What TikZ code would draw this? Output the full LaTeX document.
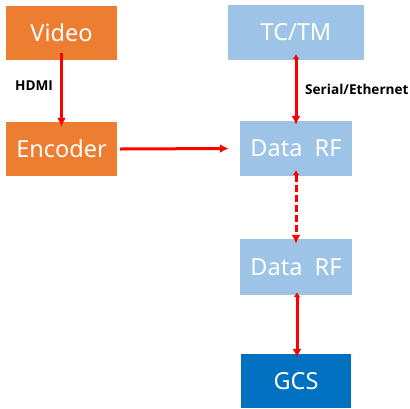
\documentclass[tikz,border=0pt]{standalone}
\usepackage{fontspec}
\setmainfont{Noto Sans}
\newfontfamily\lblfont{Open Sans}
\usetikzlibrary{arrows.meta}
\definecolor{orangeb}{HTML}{ED7D31}
\definecolor{lightb}{HTML}{9DC3E6}
\definecolor{darkb}{HTML}{0070C0}
\definecolor{redl}{HTML}{FF0000}
\begin{document}
\begin{tikzpicture}[x=1pt,y=-1pt,
  box/.style={draw=none,minimum height=54pt,inner sep=0pt,text=white,font=\fontsize{23.5}{26}\selectfont},
  orbox/.style={box,fill=orangeb,minimum width=111pt},
  ltbox/.style={box,fill=lightb,minimum width=112pt},
  conn/.style={draw=redl,line width=3pt},
  tipend/.style={-{Latex[length=9pt,width=9pt]}},
  bothend/.style={{Latex[length=5pt,width=7pt]}-{Latex[length=9pt,width=9pt]}},
  lbl/.style={font=\lblfont\bfseries\fontsize{13.6}{16}\selectfont,text=black,inner sep=0pt}]
\useasboundingbox (0,0) rectangle (410,408);
\node[orbox] (video) at (61.5,32.5) {Video};
\node[orbox] (enc) at (61.5,149) {Encoder};
\node[ltbox,minimum width=136pt,minimum height=55pt] (tctm) at (296,32.5) {TC/TM};
\node[ltbox,minimum height=55pt] (rf1) at (296,148.5) {Data\ \ RF};
\node[ltbox,minimum height=56pt] (rf2) at (296,267) {Data\ \ RF};
\node[box,fill=darkb,minimum width=110pt] (gcs) at (296,381) {GCS};
\draw[conn,tipend] ([yshift=7pt]video.south) -- ([yshift=-5pt]enc.north);
\node[lbl,anchor=west] (hdmi) at (15,86) {HDMI};
\draw[conn,tipend] ([xshift=3pt]enc.east) -- ([xshift=-11pt]rf1.west);
\draw[conn,bothend] ([yshift=6pt]tctm.south) -- ([yshift=-4pt]rf1.north);
\node[lbl,anchor=west] (ser) at (305,89) {Serial/Ethernet};
\draw[conn,bothend,dash pattern=on 7pt off 3pt] ([yshift=6pt]rf1.south) -- ([yshift=-5pt]rf2.north);
\draw[conn,bothend] ([xshift=1pt,yshift=3pt]rf2.south) -- ([xshift=1pt,yshift=-4pt]gcs.north);
\end{tikzpicture}
\end{document}
